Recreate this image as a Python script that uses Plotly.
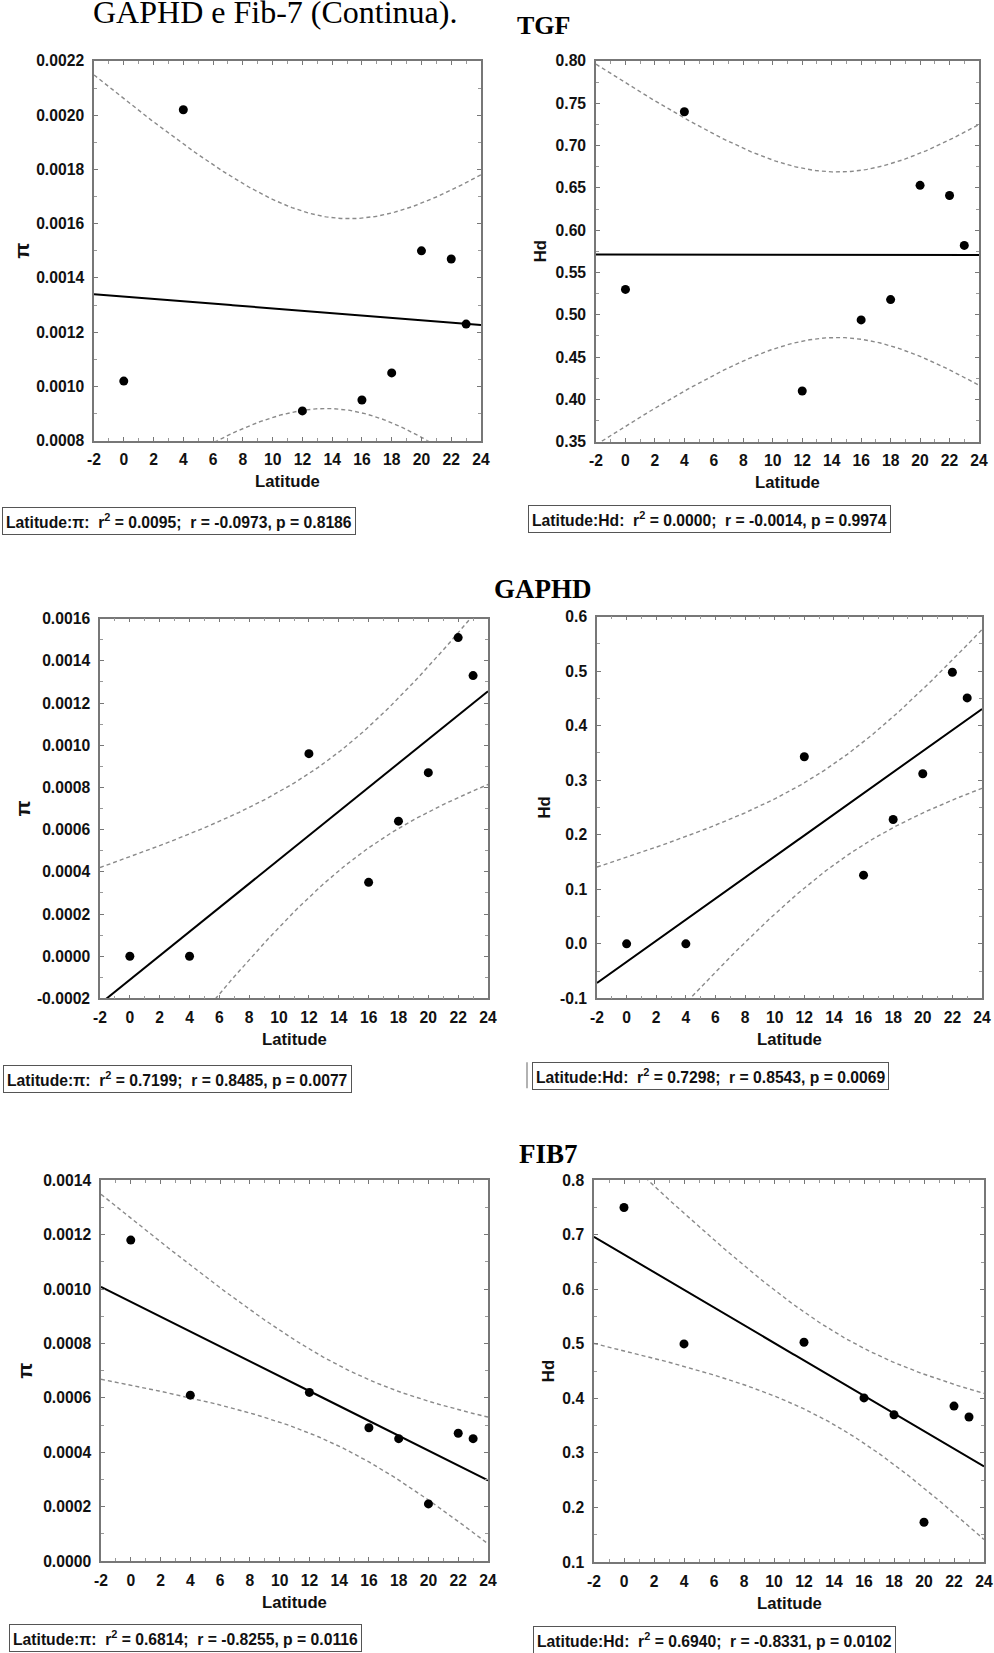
import numpy as np
import plotly.graph_objects as go

# ---- data -------------------------------------------------------------
latitude = [0, 4, 12, 16, 18, 20, 22, 23]

tgf_pi = [0.00102, 0.00202, 0.00091, 0.00095, 0.00105, 0.00150, 0.00147, 0.00123]
tgf_hd = [0.530, 0.740, 0.410, 0.494, 0.518, 0.653, 0.641, 0.582]
gaphd_pi = [0.0, 0.0, 0.00096, 0.00035, 0.00064, 0.00087, 0.00151, 0.00133]
gaphd_hd = [0.0, 0.0, 0.343, 0.126, 0.228, 0.312, 0.498, 0.451]
fib7_pi = [0.00118, 0.00061, 0.00062, 0.00049, 0.00045, 0.00021, 0.00047, 0.00045]
fib7_hd = [0.750, 0.500, 0.503, 0.401, 0.370, 0.173, 0.386, 0.366]

# ---- tick labels ------------------------------------------------------
x_tickvals = [-2, 0, 2, 4, 6, 8, 10, 12, 14, 16, 18, 20, 22, 24]
x_ticktext = ["-2", "0", "2", "4", "6", "8", "10", "12", "14", "16", "18", "20", "22", "24"]

tgf_pi_ticks = [0.0008, 0.0010, 0.0012, 0.0014, 0.0016, 0.0018, 0.0020, 0.0022]
tgf_pi_labels = ["0.0008", "0.0010", "0.0012", "0.0014", "0.0016", "0.0018", "0.0020", "0.0022"]
tgf_hd_ticks = [0.35, 0.40, 0.45, 0.50, 0.55, 0.60, 0.65, 0.70, 0.75, 0.80]
tgf_hd_labels = ["0.35", "0.40", "0.45", "0.50", "0.55", "0.60", "0.65", "0.70", "0.75", "0.80"]
gaphd_pi_ticks = [-0.0002, 0.0, 0.0002, 0.0004, 0.0006, 0.0008, 0.0010, 0.0012, 0.0014, 0.0016]
gaphd_pi_labels = ["-0.0002", "0.0000", "0.0002", "0.0004", "0.0006", "0.0008", "0.0010",
                   "0.0012", "0.0014", "0.0016"]
gaphd_hd_ticks = [-0.1, 0.0, 0.1, 0.2, 0.3, 0.4, 0.5, 0.6]
gaphd_hd_labels = ["-0.1", "0.0", "0.1", "0.2", "0.3", "0.4", "0.5", "0.6"]
fib7_pi_ticks = [0.0, 0.0002, 0.0004, 0.0006, 0.0008, 0.0010, 0.0012, 0.0014]
fib7_pi_labels = ["0.0000", "0.0002", "0.0004", "0.0006", "0.0008", "0.0010", "0.0012", "0.0014"]
fib7_hd_ticks = [0.1, 0.2, 0.3, 0.4, 0.5, 0.6, 0.7, 0.8]
fib7_hd_labels = ["0.1", "0.2", "0.3", "0.4", "0.5", "0.6", "0.7", "0.8"]

NB = "\u00a0"
stat_tgf_pi = f"Latitude:π:{NB}{NB}r<sup>2</sup> = 0.0095;{NB}{NB}r = -0.0973, p = 0.8186"
stat_tgf_hd = f"Latitude:Hd:{NB}{NB}r<sup>2</sup> = 0.0000;{NB}{NB}r = -0.0014, p = 0.9974"
stat_gaphd_pi = f"Latitude:π:{NB}{NB}r<sup>2</sup> = 0.7199;{NB}{NB}r = 0.8485, p = 0.0077"
stat_gaphd_hd = f"Latitude:Hd:{NB}{NB}r<sup>2</sup> = 0.7298;{NB}{NB}r = 0.8543, p = 0.0069"
stat_fib7_pi = f"Latitude:π:{NB}{NB}r<sup>2</sup> = 0.6814;{NB}{NB}r = -0.8255, p = 0.0116"
stat_fib7_hd = f"Latitude:Hd:{NB}{NB}r<sup>2</sup> = 0.6940;{NB}{NB}r = -0.8331, p = 0.0102"

# ---- page geometry (pixels) --------------------------------------------
W, H = 994, 1653
INSET = 8                       # page inset around the drawing
AREA_W, AREA_H = W - 2 * INSET, H - 2 * INSET
SANS = "Arial, Liberation Sans, sans-serif"
SERIF = "Times New Roman, Liberation Serif, serif"
T975_DF6 = 2.4469  # Student t, 95 % two-sided, n-2 = 6 d.f.


def fx(p):
    """page x pixel -> paper fraction"""
    return (p - INSET) / AREA_W


def fy(p):
    """page y pixel -> paper fraction"""
    return 1 - (p - INSET) / AREA_H


# frame: left, right, top, bottom ; y-range ; ticks ; y title x ; stat box (left, top)
panels = [
    dict(box=(95, 482, 60, 440), y=tgf_pi, yr=(0.0008, 0.0022), tv=tgf_pi_ticks, tt=tgf_pi_labels,
         minor=0.0001, ytitle="π", ytx=23, stat=stat_tgf_pi, sp=(3, 506)),
    dict(box=(597, 980, 60, 441), y=tgf_hd, yr=(0.35, 0.80), tv=tgf_hd_ticks, tt=tgf_hd_labels,
         minor=0.025, ytitle="Hd", ytx=541, stat=stat_tgf_hd, sp=(529, 504)),
    dict(box=(101, 489, 618, 998), y=gaphd_pi, yr=(-0.0002, 0.0016), tv=gaphd_pi_ticks, tt=gaphd_pi_labels,
         minor=0.0001, ytitle="π", ytx=24, stat=stat_gaphd_pi, sp=(4, 1065)),
    dict(box=(598, 983, 616, 998), y=gaphd_hd, yr=(-0.1, 0.6), tv=gaphd_hd_ticks, tt=gaphd_hd_labels,
         minor=0.05, ytitle="Hd", ytx=546, stat=stat_gaphd_hd, sp=(533, 1062)),
    dict(box=(102, 489, 1180, 1561), y=fib7_pi, yr=(0.0, 0.0014), tv=fib7_pi_ticks, tt=fib7_pi_labels,
         minor=0.0001, ytitle="π", ytx=26, stat=stat_fib7_pi, sp=(10, 1624)),
    dict(box=(595, 985, 1180, 1562), y=fib7_hd, yr=(0.1, 0.8), tv=fib7_hd_ticks, tt=fib7_hd_labels,
         minor=0.05, ytitle="Hd", ytx=549, stat=stat_fib7_hd, sp=(534, 1626)),
]

fig = go.Figure()
annotations = []
layout_axes = {}

xs = np.array(latitude, dtype=float)
xgrid = np.linspace(-2, 24, 261)

for i, p in enumerate(panels, start=1):
    L, R, T, B = p["box"]
    ys = np.array(p["y"], dtype=float)
    xa = "x" if i == 1 else f"x{i}"
    ya = "y" if i == 1 else f"y{i}"

    # least-squares line with 95 % confidence band of the mean
    n = len(xs)
    mx = xs.mean()
    sxx = ((xs - mx) ** 2).sum()
    slope = ((xs - mx) * (ys - ys.mean())).sum() / sxx
    icpt = ys.mean() - slope * mx
    fit = icpt + slope * xgrid
    resid = ys - (icpt + slope * xs)
    s = np.sqrt((resid ** 2).sum() / (n - 2))
    half = T975_DF6 * s * np.sqrt(1 / n + (xgrid - mx) ** 2 / sxx)

    for band in (fit + half, fit - half):
        fig.add_trace(go.Scatter(x=xgrid, y=band, mode="lines", xaxis=xa, yaxis=ya,
                                 line=dict(color="#8a8a8a", width=1.4, dash="4px,3px"),
                                 showlegend=False, hoverinfo="skip"))
    fig.add_trace(go.Scatter(x=xgrid, y=fit, mode="lines", xaxis=xa, yaxis=ya,
                             line=dict(color="black", width=2), showlegend=False, hoverinfo="skip"))
    fig.add_trace(go.Scatter(x=xs, y=ys, mode="markers", xaxis=xa, yaxis=ya,
                             marker=dict(color="black", size=9), showlegend=False))

    common = dict(showline=True, linecolor="#777777", linewidth=1.5, mirror="ticks",
                  ticks="inside", ticklen=4, tickwidth=1, tickcolor="#777777",
                  showgrid=False, zeroline=False, tickmode="array",
                  tickfont=dict(family=SANS, size=15.7, color="#111111", weight="bold"))
    layout_axes["xaxis" if i == 1 else f"xaxis{i}"] = dict(
        common, domain=[fx(L), fx(R)], range=[-2, 24], anchor=ya,
        tickvals=x_tickvals, ticktext=x_ticktext, ticklabelstandoff=4,
        minor=dict(ticks="inside", ticklen=3, tickcolor="#999999", tickmode="linear", tick0=-2, dtick=1))
    layout_axes["yaxis" if i == 1 else f"yaxis{i}"] = dict(
        common, domain=[fy(B), fy(T)], range=list(p["yr"]), anchor=xa,
        tickvals=p["tv"], ticktext=p["tt"], ticklabelstandoff=5,
        minor=dict(ticks="inside", ticklen=3, tickcolor="#999999", tickmode="linear",
                   tick0=p["yr"][0], dtick=p["minor"]))

    # axis titles
    annotations.append(dict(text="Latitude", x=fx((L + R) / 2), y=fy(B + 41), xref="paper", yref="paper",
                            showarrow=False, xanchor="center", yanchor="middle",
                            font=dict(family=SANS, size=16.7, color="#111111", weight="bold")))
    ysize = 21 if p["ytitle"] == "π" else 16.7
    annotations.append(dict(text=p["ytitle"], x=fx(p["ytx"]), y=fy((T + B) / 2), xref="paper", yref="paper",
                            showarrow=False, xanchor="center", yanchor="middle", textangle=-90,
                            font=dict(family=SANS, size=ysize, color="#111111", weight="bold")))
    # statistics box
    annotations.append(dict(text=p["stat"], x=fx(p["sp"][0]), y=fy(p["sp"][1]), xref="paper", yref="paper",
                            showarrow=False, xanchor="left", yanchor="top", align="left",
                            bordercolor="#555555", borderwidth=1, borderpad=3, bgcolor="white",
                            font=dict(family=SANS, size=15.7, color="#111111", weight="bold")))

# gene headings
for label, cx, cy, size in (("TGF", 544, 25, 26), ("GAPHD", 544, 588, 27), ("FIB7", 549, 1154, 27)):
    annotations.append(dict(text=label, x=fx(cx), y=fy(cy), xref="paper", yref="paper", showarrow=False,
                            xanchor="center", yanchor="middle",
                            font=dict(family=SERIF, size=size, color="black", weight="bold")))

# running caption at the top of the page
annotations.append(dict(text="GAPHD e Fib-7 (Continua).", x=fx(276), y=fy(11), xref="paper", yref="paper",
                        showarrow=False, xanchor="center", yanchor="middle",
                        font=dict(family=SERIF, size=32, color="black")))

shapes = [dict(type="line", xref="paper", yref="paper", x0=fx(528), x1=fx(528), y0=fy(1062), y1=fy(1088),
               line=dict(color="#999999", width=1.5))]

fig.update_layout(width=W, height=H, margin=dict(l=0, r=0, t=0, b=0),
                  paper_bgcolor="white", plot_bgcolor="white",
                  annotations=annotations, shapes=shapes, **layout_axes)

fig.write_html("out.html")
